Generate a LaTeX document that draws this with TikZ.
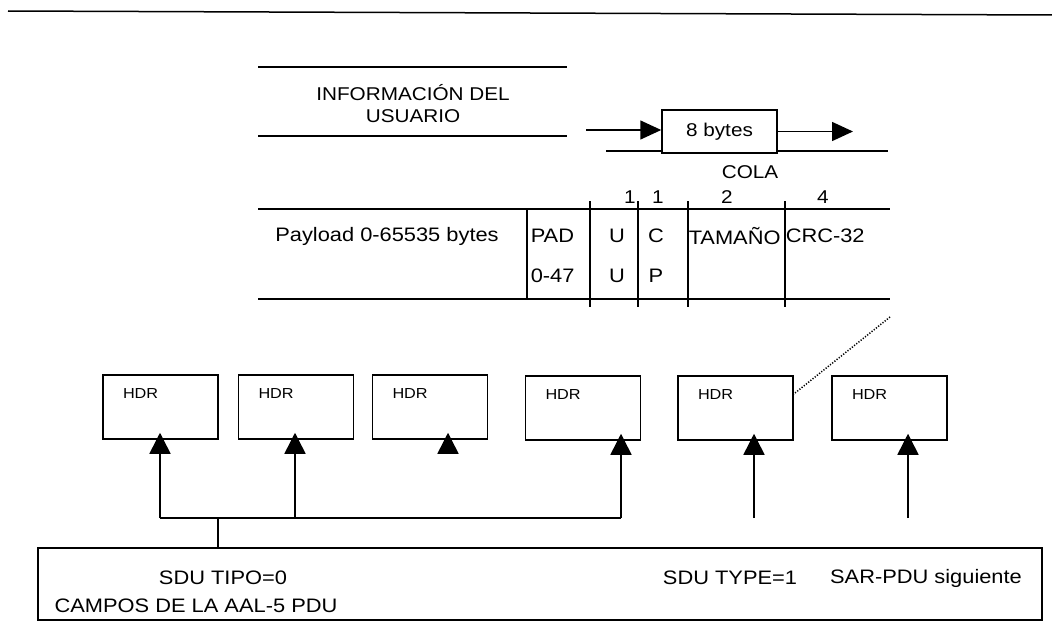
\documentclass[tikz,border=0pt]{standalone}
\usepackage{fontspec}
\setmainfont{Liberation Sans}[FakeStretch=1.12]
\usetikzlibrary{arrows.meta}

\begin{document}
\begin{tikzpicture}[x=1pt, y=-1pt, line width=1.5pt,
  every node/.style={inner sep=0pt, font=\fontsize{18.5}{22}\selectfont},
  fld/.style={anchor=west},
  cell/.style={font=\fontsize{19.5}{22}\selectfont},
  note/.style={font=\fontsize{19.5}{22}\selectfont},
  hdrbox/.style={draw, minimum width=115pt, minimum height=64pt,
    label={[anchor=north west, xshift=20pt, yshift=-14pt, font=\fontsize{14.5}{16}\selectfont]north west:HDR}},
  tip/.style={-{Triangle[length=21pt, width=19pt]}},
  uptip/.style={-{Triangle[length=21pt, width=21pt]}, shorten >=-7pt}]
  \useasboundingbox (0,0) rectangle (1052,634);

  % top rule
  \draw (8,11) -- (1052,15);

  % user information
  \draw (258,67) -- (567,67);
  \draw (258,136) -- (567,136);
  \node[align=center] (info) at (413,104) {INFORMACIÓN DEL\\USUARIO};

  % trailer (8 bytes)
  \node[draw, minimum width=115pt, minimum height=43pt] (bytes) at (719.5,131.5) {8 bytes};
  \coordinate (in) at (586,130);
  \coordinate (out) at (853,131.5);
  \draw[tip] (in) -- (in -| bytes.west);
  \draw[tip] (bytes.east) -- (out);
  \coordinate (lo1) at (606,151);
  \coordinate (lo2) at (888,151);
  \draw (lo1) -- (lo1 -| bytes.west);
  \draw (lo2 -| bytes.east) -- (lo2);
  \node (cola) at (750,172) {COLA};
  \node (n1) at (630,197) {1};
  \node (n2) at (658,197) {1};
  \node (n3) at (727,197) {2};
  \node (n4) at (823,197) {4};

  % AAL-5 PDU fields
  \draw (258,209) -- (890,209);
  \draw (258,299) -- (890,299);
  \draw (527,209) -- (527,299);
  \foreach \x in {590,638,688,785}
    \draw (\x,201) -- (\x,307);
  \node[cell] (payload) at (387,236) {Payload 0-65535 bytes};
  \node[cell, fld] (pad) at (530,236) {PAD};
  \node[cell, fld] (padlen) at (530,276) {0-47};
  \node[cell] (uu1) at (617,236) {U};
  \node[cell] (uu2) at (617,276) {U};
  \node[cell] (cpi1) at (656,236) {C};
  \node[cell] (cpi2) at (656,276) {P};
  \node[cell, fld] (len) at (688,236) {TAMAÑO};
  \node[cell, fld] (crc) at (785,236) {CRC-32};
  \coordinate (tblend) at (890,317);

  % SAR-PDUs
  \node[hdrbox] (hdr1) at (160.5,407) {};
  \node[hdrbox] (hdr2) at (296,407) {};
  \node[hdrbox] (hdr3) at (430,407) {};
  \node[hdrbox] (hdr4) at (583,408) {};
  \node[hdrbox] (hdr5) at (735.5,408) {};
  \node[hdrbox] (hdr6) at (889.5,408) {};
  \draw[dash pattern=on 1.2pt off 1.6pt] (tblend) -- ([yshift=14pt]hdr5.east);

  \coordinate (t1) at (160,518);
  \coordinate (t2) at (295,518);
  \coordinate (t3) at (448,453);
  \coordinate (t4) at (621,518);
  \coordinate (t5) at (754,518);
  \coordinate (t6) at (908,518);
  \foreach \i in {1,...,6}
    \draw[uptip] (t\i) -- (t\i |- hdr\i.south);
  \draw (t1) -- (t4);

  % SDU type
  \node[draw, minimum width=1004pt, minimum height=72pt] (sdu) at (540,584) {};
  \coordinate (tk) at (218,518);
  \draw (tk) -- (tk |- sdu.north);
  \node[note] (tipo) at (223,578) {SDU TIPO=0};
  \node[note] (campos) at (196,606) {CAMPOS DE LA AAL-5 PDU};
  \node[note] (type) at (730,578) {SDU TYPE=1};
  \node[note] (next) at (926,578) {SAR-PDU siguiente};
\end{tikzpicture}
\end{document}
